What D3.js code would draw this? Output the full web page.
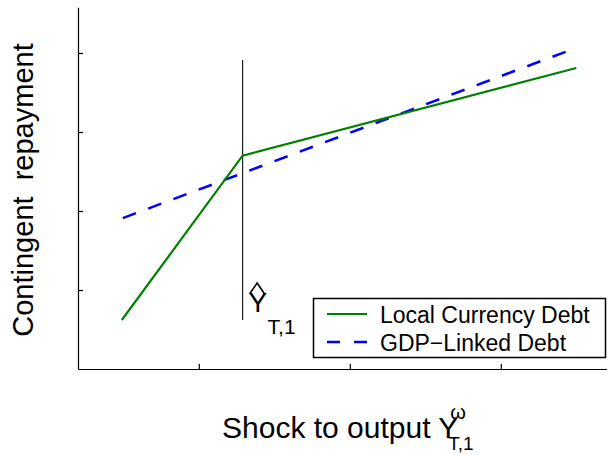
<!DOCTYPE html>
<html>
<head>
<meta charset="utf-8">
<script src="https://cdn.jsdelivr.net/npm/d3@7"></script>
<style>
  body { margin: 0; background: #fff; }
  text { font-family: "Liberation Sans", Arial, sans-serif; fill: #000; }
</style>
</head>
<body>
<div class="svg-target"></div>
<script>
// shock values (x) and repayments (y)
const localX = [0.49, 1.29, 3.50];
const localY = [0.62, 2.70, 3.81];
const gdpX = [0.497, 3.45];
const gdpY = [1.91, 4.03];
const thresholdX = 1.29;
const thresholdY = [0.62, 3.91];
const xTicks = [1, 2, 3];
const yTicks = [1, 2, 3, 4];
const legendLabels = ['Local Currency Debt', 'GDP\u2212Linked Debt'];

const w = 608;
const h = 455;
const padLeft = 78, padBottom = 369;

const svg = d3.select('.svg-target')
    .append('svg')
    .attr('width', w)
    .attr('height', h);

const xScale = d3.scaleLinear().domain([0.2, 3.7]).range([padLeft, padLeft + 3.5 * 151]);
const yScale = d3.scaleLinear().domain([0, 4.58]).range([padBottom, padBottom - 4.58 * 79]);

// axes, ticks pointing inward, no labels
svg.append('g')
    .attr('transform', `translate(0, ${padBottom})`)
    .call(d3.axisBottom(xScale).tickValues(xTicks).tickSize(-5).tickSizeOuter(0).tickFormat(''))
    .call(g => g.selectAll('path, line').attr('stroke', '#000').attr('stroke-width', 1.2));

svg.append('g')
    .attr('transform', `translate(${padLeft}, 0)`)
    .call(d3.axisLeft(yScale).tickValues(yTicks).tickSize(-5).tickSizeOuter(0).tickFormat(''))
    .call(g => g.selectAll('path, line').attr('stroke', '#000').attr('stroke-width', 1.2));

// threshold line
svg.append('line')
    .attr('x1', xScale(thresholdX)).attr('x2', xScale(thresholdX))
    .attr('y1', yScale(thresholdY[0])).attr('y2', yScale(thresholdY[1]))
    .attr('stroke', '#222')
    .attr('stroke-width', 1.2);

const line = d3.line().x(d => xScale(d[0])).y(d => yScale(d[1]));

svg.append('path')
    .datum(gdpX.map((x, i) => [x, gdpY[i]]))
    .attr('d', line)
    .attr('fill', 'none')
    .attr('stroke', '#0000ff')
    .attr('stroke-width', 2.5)
    .attr('stroke-dasharray', '14,13');

svg.append('path')
    .datum(localX.map((x, i) => [x, localY[i]]))
    .attr('d', line)
    .attr('fill', 'none')
    .attr('stroke', '#008000')
    .attr('stroke-width', 2.2);

// Y-hat label
const hx = xScale(thresholdX) + 6;
const hy = yScale(thresholdY[0]) - 8;
svg.append('text')
    .attr('x', hx)
    .attr('y', hy)
    .style('font-size', '28px')
    .text('Y');
svg.append('path')
    .attr('d', `M${hx + 1},${hy - 18} L${hx + 8.5},${hy - 29} L${hx + 16},${hy - 18}`)
    .attr('fill', 'none')
    .attr('stroke', '#000')
    .attr('stroke-width', 1.6);
svg.append('text')
    .attr('x', hx + 19)
    .attr('y', hy + 22)
    .style('font-size', '21px')
    .text('T,1');

// legend
const legend = svg.append('g');
legend.append('rect')
    .attr('x', 313.5).attr('y', 298.5)
    .attr('width', 292).attr('height', 59)
    .attr('fill', '#fff')
    .attr('stroke', '#000')
    .attr('stroke-width', 1.5);

const legendY = [314, 342];
legend.append('line')
    .attr('x1', 327).attr('x2', 367).attr('y1', legendY[0]).attr('y2', legendY[0])
    .attr('stroke', '#008000').attr('stroke-width', 2.2);
legend.append('line')
    .attr('x1', 327).attr('x2', 367).attr('y1', legendY[1]).attr('y2', legendY[1])
    .attr('stroke', '#0000ff').attr('stroke-width', 2.5).attr('stroke-dasharray', '13,14');

legend.selectAll('text.leg')
    .data(legendLabels)
    .enter()
    .append('text')
    .attr('class', 'leg')
    .attr('x', 380)
    .attr('y', (d, i) => legendY[i] + 8.5)
    .style('font-size', '23px')
    .text(d => d);

// axis titles
svg.append('text')
    .attr('transform', `translate(33, 190) rotate(-90)`)
    .attr('text-anchor', 'middle')
    .style('font-size', '29px')
    .style('white-space', 'pre')
    .text('Contingent  repayment');

const xl = svg.append('text')
    .attr('x', 222)
    .attr('y', 438)
    .style('font-size', '30px')
    .text('Shock to output Y');
const xEnd = 222 + xl.node().getComputedTextLength();
svg.append('text')
    .attr('x', xEnd - 8)
    .attr('y', 419)
    .style('font-size', '20px')
    .text('\u03c9');
svg.append('text')
    .attr('x', xEnd - 10)
    .attr('y', 450)
    .style('font-size', '19px')
    .text('T,1');
</script>
</body>
</html>
